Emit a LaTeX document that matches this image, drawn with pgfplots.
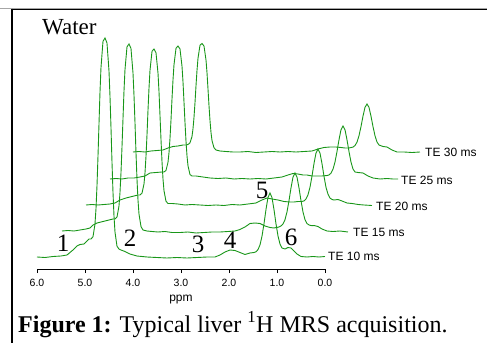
\documentclass[border=0pt]{standalone}
\usepackage{pgfplots}
\pgfplotsset{compat=1.18}
\usepackage{fontspec}
\setmainfont{Liberation Serif}
\newfontfamily\sffont{Liberation Sans}
\definecolor{spec}{RGB}{25,150,25}
\pgfplotsset{trace/.style={spec, line width=0.9pt, mark=none}}
\begin{document}
\begin{tikzpicture}
\useasboundingbox (0,0) rectangle (487pt,343pt);
\draw[black!35, line width=0.9pt] (0,334.8pt) -- (487pt,334.8pt);
\draw[black, line width=1.2pt] (12pt,333.7pt) -- (487pt,333.7pt);
\draw[black, line width=2pt] (12pt,334.3pt) -- (12pt,0pt);
\begin{axis}[
  at={(37pt,74pt)}, anchor=south west,
  scale only axis, width=288pt, height=240pt,
  xmin=0, xmax=6, ymin=0, ymax=240,
  x dir=reverse, clip=false,
  axis x line*=bottom, axis y line=none,
  x axis line style={-, black, line width=0.8pt},
  xtick={0,1,2,3,4,5,6},
  xticklabels={\mbox{0.0},\mbox{1.0},\mbox{2.0},\mbox{3.0},\mbox{4.0},\mbox{5.0},\mbox{6.0}},
  xticklabel style={font=\sffont\fontsize{10.5}{12}\selectfont, yshift=-3pt},
  tick align=outside, major tick length=4pt,
  tick style={black, line width=0.8pt},
  minor tick num=0,
]
% TE 10 ms
\addplot[trace] coordinates {
(6.000,12) (5.833,11.5) (5.667,12.5) (5.500,13) (5.375,14) (5.250,19) (5.167,23) (5.104,24.5) (5.021,25) (4.958,28) (4.917,30) (4.875,30) (4.833,32.3) (4.792,44.9) (4.771,60.3) (4.750,83.4) (4.729,113.1) (4.708,145.6) (4.688,176.4) (4.667,201.3) (4.625,227.7) (4.583,231) (4.542,226.1) (4.500,198.1) (4.479,172.4) (4.458,140.8) (4.438,107.5) (4.417,77) (4.396,53.1) (4.375,36.9) (4.333,22.7) (4.292,20) (4.250,19) (4.167,17.5) (4.063,15) (3.917,13) (3.708,12) (3.500,11.5) (3.292,11) (3.083,11.5) (2.875,11) (2.667,11.5) (2.458,12) (2.292,12) (2.188,14) (2.083,17) (1.979,19) (1.875,18.5) (1.771,16.5) (1.667,14.5) (1.563,16) (1.479,16.5) (1.438,17.2) (1.396,19.4) (1.354,24.1) (1.313,32.7) (1.271,45.2) (1.229,59.6) (1.188,71.4) (1.146,76) (1.104,71.4) (1.063,59.6) (1.021,45.2) (0.979,33) (0.938,25) (0.896,21) (0.833,20) (0.771,21.5) (0.708,21) (0.646,18) (0.583,15) (0.500,12.5) (0.375,12) (0.250,12.5) (0.125,12) (0.000,12.5)
};
% TE 15 ms
\addplot[trace] coordinates {
(5.479,38) (5.354,38.5) (5.229,38) (5.104,39) (4.979,40) (4.896,41) (4.833,44) (4.750,46) (4.667,47) (4.583,48) (4.500,49) (4.417,50) (4.375,50) (4.333,52) (4.292,62.9) (4.271,76.3) (4.250,96.4) (4.229,122.3) (4.208,150.7) (4.188,177.5) (4.167,199.2) (4.125,222.2) (4.083,225) (4.042,220.6) (4.000,196) (3.979,173.5) (3.958,145.9) (3.938,116.7) (3.917,90) (3.896,69.1) (3.875,54.9) (3.833,42.4) (3.792,39) (3.708,38) (3.604,37.5) (3.479,37) (3.333,37.5) (3.188,36.5) (3.021,36.5) (2.854,37) (2.688,36) (2.521,36.5) (2.354,37) (2.188,37) (2.021,37.5) (1.875,38) (1.771,39.5) (1.667,42) (1.563,45.5) (1.458,46) (1.354,45.5) (1.250,43) (1.146,41.5) (1.063,41) (0.958,42) (0.917,43.1) (0.875,45) (0.833,49.3) (0.792,57) (0.750,68.3) (0.708,81.2) (0.667,91.8) (0.625,96) (0.583,91.8) (0.542,81.2) (0.500,68.3) (0.458,57) (0.417,49.3) (0.375,45.5) (0.333,44) (0.271,43.3) (0.229,43.5) (0.146,42.5) (0.063,40) (-0.042,38) (-0.167,37.5) (-0.313,38) (-0.479,37)
};
% TE 20 ms
\addplot[trace] coordinates {
(4.979,64) (4.854,64.5) (4.729,64) (4.604,64.5) (4.479,65) (4.375,66) (4.271,69) (4.146,71) (4.021,72.5) (3.896,74) (3.854,74) (3.813,75.8) (3.771,84.9) (3.750,96.1) (3.729,112.8) (3.708,134.4) (3.688,158.1) (3.667,180.5) (3.646,198.5) (3.604,217.7) (3.563,220) (3.521,216.3) (3.479,195.9) (3.458,177.1) (3.438,154.1) (3.417,129.8) (3.396,107.6) (3.375,90.1) (3.354,78.3) (3.313,67.8) (3.271,65.5) (3.188,65.5) (3.063,65) (2.917,64) (2.771,64.5) (2.604,64) (2.438,63.5) (2.271,64) (2.104,63.5) (1.938,64.5) (1.771,64) (1.604,65) (1.438,66) (1.313,69) (1.208,71) (1.104,70) (0.979,69) (0.854,67.5) (0.729,67) (0.646,67) (0.563,67.5) (0.479,67.5) (0.438,68.1) (0.396,70) (0.354,74.2) (0.313,81.7) (0.271,92.8) (0.229,105.5) (0.188,115.9) (0.146,120) (0.104,115.9) (0.063,105.5) (0.021,92.8) (-0.021,81.7) (-0.063,74.7) (-0.104,71) (-0.146,69.5) (-0.188,69) (-0.271,69.5) (-0.354,68) (-0.458,66) (-0.563,65.5) (-0.688,64.5) (-0.813,64) (-0.979,63.5)
};
% TE 25 ms
\addplot[trace] coordinates {
(4.479,90) (4.354,90.5) (4.229,90) (4.104,91) (3.979,91) (3.854,92) (3.750,93) (3.646,96) (3.521,96.5) (3.396,97) (3.354,97) (3.313,98.5) (3.271,106.6) (3.250,116.2) (3.229,130.7) (3.208,149.2) (3.188,169.5) (3.167,188.7) (3.146,204.2) (3.104,220.7) (3.063,223) (3.021,220.1) (2.979,202.8) (2.958,187) (2.938,167.5) (2.917,146.8) (2.896,127.9) (2.875,113.2) (2.854,103.2) (2.813,94.5) (2.771,93) (2.688,93) (2.542,92) (2.396,91) (2.229,90.5) (2.063,91) (1.896,90) (1.729,90.5) (1.563,90) (1.396,90.5) (1.229,90) (1.063,91) (0.896,92) (0.771,94) (0.667,95.5) (0.563,95) (0.458,94) (0.375,94) (0.271,93) (0.146,93) (0.063,93) (-0.042,93.5) (-0.083,94) (-0.125,95.8) (-0.167,99.8) (-0.208,106.9) (-0.250,117.4) (-0.292,129.3) (-0.333,139.2) (-0.375,143) (-0.417,139.2) (-0.458,129.3) (-0.500,117.4) (-0.542,106.9) (-0.583,100) (-0.625,97) (-0.688,96.5) (-0.792,96) (-0.896,93) (-1.000,91) (-1.146,90) (-1.292,90.5) (-1.417,90) (-1.521,90)
};
% TE 30 ms
\addplot[trace] coordinates {
(4.000,117) (3.875,117.5) (3.750,117) (3.625,118) (3.500,118.5) (3.375,119) (3.271,121) (3.167,122.5) (3.063,123) (2.958,124) (2.896,124) (2.854,124.5) (2.813,126.1) (2.771,132.4) (2.750,140.2) (2.729,151.7) (2.708,166.5) (2.688,182.8) (2.667,198.2) (2.646,210.6) (2.604,223.8) (2.563,225.5) (2.521,223) (2.479,209) (2.458,196.2) (2.438,180.4) (2.417,163.7) (2.396,148.5) (2.375,136.6) (2.354,128.4) (2.313,121.3) (2.271,119) (2.188,118) (2.063,117.5) (1.917,117) (1.771,117) (1.604,117.5) (1.438,116.5) (1.271,117) (1.104,117.5) (0.938,117) (0.771,117.5) (0.604,117) (0.438,117.5) (0.271,118) (0.146,120) (0.021,121.5) (-0.104,122) (-0.229,122) (-0.333,121.5) (-0.417,121) (-0.500,121) (-0.583,121.9) (-0.625,123.5) (-0.667,126.9) (-0.708,133.2) (-0.750,142.4) (-0.792,152.9) (-0.833,161.6) (-0.875,165) (-0.917,161.6) (-0.958,152.9) (-1.000,142.4) (-1.042,133.2) (-1.083,127) (-1.125,124) (-1.208,122.5) (-1.292,122) (-1.396,119) (-1.500,117) (-1.646,117) (-1.813,116.5) (-1.979,117)
};
\node[font=\sffont\fontsize{12}{14}\selectfont, anchor=center] at (axis cs:3,-31) {ppm};
\end{axis}
% annotations
\node[anchor=base west, inner sep=0, font=\fontsize{23}{26}\selectfont] at (42pt,308pt) {Water};
\begin{scope}[every node/.style={anchor=base, inner sep=0, font=\fontsize{25}{28}\selectfont}]
\node at (63pt,92pt) {1};
\node at (130pt,97pt) {2};
\node at (198pt,91pt) {3};
\node at (230pt,95pt) {4};
\node at (262pt,144pt) {5};
\node at (291pt,98pt) {6};
\end{scope}
\begin{scope}[every node/.style={anchor=west, inner sep=0, font=\sffont\fontsize{12}{14}\selectfont}]
\node at (328pt,87pt) {TE 10 ms};
\node at (353pt,111pt) {TE 15 ms};
\node at (376pt,137pt) {TE 20 ms};
\node at (401pt,163pt) {TE 25 ms};
\node at (425pt,191pt) {TE 30 ms};
\end{scope}
\node[anchor=base west, inner sep=0, font=\fontsize{24}{28}\selectfont] at (18pt,11pt) {\textbf{Figure 1:} Typical liver \textsuperscript{1}H MRS acquisition.};
\end{tikzpicture}
\end{document}
